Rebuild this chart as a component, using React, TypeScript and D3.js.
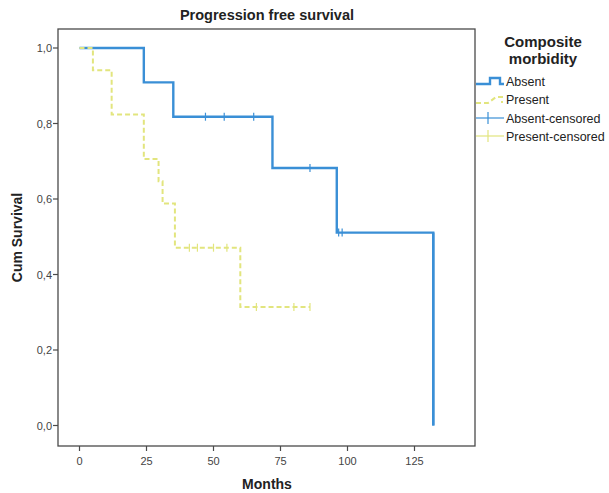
import { useMemo } from "react";
import * as d3 from "d3";

// Kaplan-Meier steps (months, cumulative survival)
const absentTimes = [0, 24, 35, 72, 96, 132];
const absentSurv = [1, 0.909, 0.818, 0.682, 0.511, 0];
const absentEnd = 132;
const absentCensored = [47, 54, 65, 86, 96.7, 98];

const presentTimes = [0, 5, 12, 24, 29.5, 31, 35.6, 60];
const presentSurv = [1, 0.941, 0.824, 0.706, 0.647, 0.588, 0.471, 0.314];
const presentEnd = 86;
const presentCensored = [41, 44, 50, 55, 66, 80, 86];

const xTicks = [0, 25, 50, 75, 100, 125];
const yTicks = [0, 0.2, 0.4, 0.6, 0.8, 1.0];

const legendItems = ["Absent", "Present", "Absent-censored", "Present-censored"];

const BLUE = "#3a8fd6";
const YELLOW = "#e2e57e";
const AXIS = "#4a4a4a";
const FONT = "'Liberation Sans', Arial, sans-serif";

const width = 609;
const height = 493;
const frame = { left: 58, right: 475, top: 29, bottom: 446 };

function survAt(times: number[], surv: number[], t: number) {
  let s = surv[0];
  times.forEach((tt, i) => {
    if (tt <= t) s = surv[i];
  });
  return s;
}

function App() {
  const x = d3.scaleLinear().domain([0, 125]).range([79.5, 414.5]);
  const y = d3.scaleLinear().domain([0, 1]).range([425.5, 48]);

  const stepLine = d3
    .line<[number, number]>()
    .x((d) => x(d[0]))
    .y((d) => y(d[1]))
    .curve(d3.curveStepAfter);

  const absentPath = useMemo(() => {
    const pts: [number, number][] = absentTimes.map((t, i) => [t, absentSurv[i]]);
    return stepLine(pts);
  }, []);

  const presentPath = useMemo(() => {
    const pts: [number, number][] = presentTimes.map((t, i) => [t, presentSurv[i]]);
    pts.push([presentEnd, presentSurv[presentSurv.length - 1]]);
    return stepLine(pts);
  }, []);

  const fmt = (v: number) => v.toFixed(1).replace(".", ",");

  const lx = 476;
  const ly = [81, 99, 118, 136];

  return (
    <svg
      width={width}
      height={height}
      style={{ position: "absolute", left: 0, top: 0, background: "#fff" }}
      fontFamily={FONT}
    >
      <rect width={width} height={height} fill="#fff" />
      <text x={267} y={20} textAnchor="middle" fontSize={14.5} fontWeight="bold" fill="#222">
        Progression free survival
      </text>

      {/* frame */}
      <rect
        x={frame.left}
        y={frame.top}
        width={frame.right - frame.left}
        height={frame.bottom - frame.top}
        fill="none"
        stroke={AXIS}
        strokeWidth={1.3}
      />

      {/* y axis */}
      {yTicks.map((t) => (
        <g key={t}>
          <line x1={frame.left - 5} x2={frame.left} y1={y(t)} y2={y(t)} stroke={AXIS} strokeWidth={1.2} />
          <text x={frame.left - 6} y={y(t) + 4} textAnchor="end" fontSize={11} fill="#444">
            {fmt(t)}
          </text>
        </g>
      ))}
      <text
        transform={`translate(22, ${(frame.top + frame.bottom) / 2}) rotate(-90)`}
        textAnchor="middle"
        fontSize={14}
        fontWeight="bold"
        fill="#222"
      >
        Cum Survival
      </text>

      {/* x axis */}
      {xTicks.map((t) => (
        <g key={t}>
          <line x1={x(t)} x2={x(t)} y1={frame.bottom} y2={frame.bottom + 5} stroke={AXIS} strokeWidth={1.2} />
          <text x={x(t)} y={frame.bottom + 19} textAnchor="middle" fontSize={11} fill="#444">
            {t}
          </text>
        </g>
      ))}
      <text x={267} y={489} textAnchor="middle" fontSize={14} fontWeight="bold" fill="#222">
        Months
      </text>

      {/* curves */}
      <path d={absentPath ?? ""} fill="none" stroke={BLUE} strokeWidth={2.4} />
      <line
        x1={x(absentEnd)}
        x2={x(absentEnd)}
        y1={y(absentSurv[absentSurv.length - 2])}
        y2={y(0)}
        stroke={BLUE}
        strokeWidth={2.4}
      />
      {absentCensored.map((t, i) => {
        const s = survAt(absentTimes, absentSurv, t);
        return (
          <line key={i} x1={x(t)} x2={x(t)} y1={y(s) - 4} y2={y(s) + 4} stroke={BLUE} strokeWidth={1.2} />
        );
      })}

      <path d={presentPath ?? ""} fill="none" stroke={YELLOW} strokeWidth={2} strokeDasharray="5,3" />
      {presentCensored.map((t, i) => {
        const s = survAt(presentTimes, presentSurv, t);
        return (
          <line key={i} x1={x(t)} x2={x(t)} y1={y(s) - 4} y2={y(s) + 4} stroke={YELLOW} strokeWidth={1.2} />
        );
      })}

      {/* legend */}
      <text x={543} y={47} textAnchor="middle" fontSize={15} fontWeight="bold" fill="#222">
        Composite
      </text>
      <text x={543} y={64} textAnchor="middle" fontSize={15} fontWeight="bold" fill="#222">
        morbidity
      </text>
      <path
        d={`M${lx},${ly[0] + 3}H${lx + 14}V${ly[0] - 3}H${lx + 24}V${ly[0] + 3}H${lx + 28}`}
        fill="none"
        stroke={BLUE}
        strokeWidth={2.4}
      />
      <path
        d={`M${lx},${ly[1] + 4}H${lx + 12}L${lx + 20},${ly[1] - 2}H${lx + 26}V${ly[1] + 4}`}
        fill="none"
        stroke={YELLOW}
        strokeWidth={2}
        strokeDasharray="5,3"
      />
      <line x1={lx} x2={lx + 28} y1={ly[2]} y2={ly[2]} stroke={BLUE} strokeWidth={1.2} />
      <line x1={lx + 12} x2={lx + 12} y1={ly[2] - 6} y2={ly[2] + 6} stroke={BLUE} strokeWidth={1.2} />
      <line x1={lx} x2={lx + 28} y1={ly[3]} y2={ly[3]} stroke={YELLOW} strokeWidth={1.2} />
      <line x1={lx + 12} x2={lx + 12} y1={ly[3] - 6} y2={ly[3] + 6} stroke={YELLOW} strokeWidth={1.2} />
      {legendItems.map((name, i) => (
        <text key={name} x={lx + 30} y={ly[i] + 4.5} fontSize={12.5} fill="#222">
          {name}
        </text>
      ))}
    </svg>
  );
}

export default App;
